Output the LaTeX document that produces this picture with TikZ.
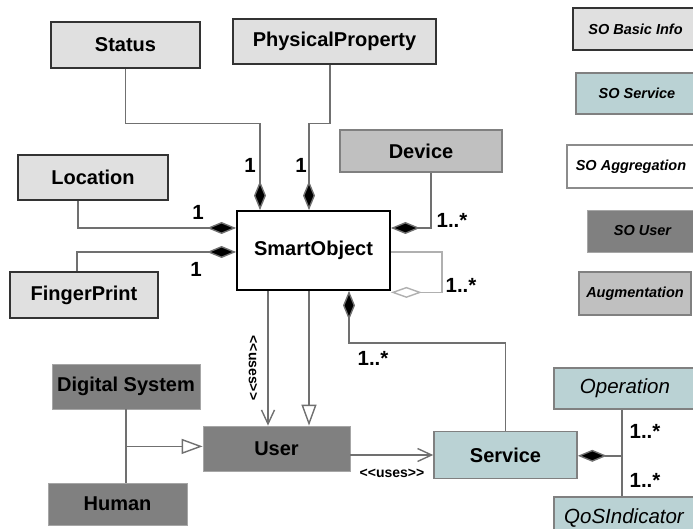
\documentclass[tikz,border=0pt]{standalone}
\usepackage{fontspec}
\setmainfont{Liberation Sans}
\usetikzlibrary{arrows.meta,calc}

\definecolor{basicfill}{HTML}{E0E0E0}
\definecolor{servfill}{HTML}{BAD2D4}
\definecolor{userfill}{HTML}{808080}
\definecolor{augfill}{HTML}{C0C0C0}
\definecolor{linegray}{HTML}{707070}
\definecolor{loopgray}{HTML}{B0B0B0}

% kerns keep the angle brackets from joining into guillemets
\newcommand{\usesstereo}{<\kern0pt<uses>\kern0pt>}

\tikzset{
  box/.style={rectangle, inner sep=0pt, font=\fontsize{20}{24}\selectfont\bfseries, line width=1.6pt},
  basicbox/.style={box, fill=basicfill, draw=black!80},
  servbox/.style={box, fill=servfill, draw=black!50},
  userbox/.style={box, fill=userfill, draw=black!35, line width=0.8pt},
  augbox/.style={box, fill=augfill, draw=black!50},
  aggbox/.style={box, fill=white, draw=black},
  legend/.style={font=\fontsize{14.5}{17}\selectfont\bfseries\itshape},
  conn/.style={draw=linegray, line width=1.4pt},
  mult/.style={font=\fontsize{20.5}{24}\selectfont\bfseries, inner sep=0pt},
  stereo/.style={font=\fontsize{14}{16}\selectfont\bfseries, inner sep=0pt},
  compo/.style={-{Diamond[length=29pt,width=12pt,fill=black]}},
  compostart/.style={{Diamond[length=29pt,width=12pt,fill=black]}-},
  aggr/.style={-{Diamond[open,length=31pt,width=11pt,fill=white]}},
  gener/.style={-{Triangle[open,length=21pt,width=15pt,fill=white]}},
  usesarrow/.style={-{Straight Barb[length=14pt,width=13pt]}},
}

\begin{document}
\begin{tikzpicture}[x=1pt,y=-1pt]
\useasboundingbox (0,0) rectangle (693,529);

% classes
\node[basicbox, minimum width=149pt, minimum height=46pt] (status) at (125.5,45) {Status};
\node[basicbox, minimum width=203pt, minimum height=45pt] (phys) at (334.5,41.5) {PhysicalProperty};
\node[augbox, minimum width=162pt, minimum height=42pt] (device) at (421,151) {Device};
\node[basicbox, minimum width=150pt, minimum height=45pt] (location) at (93,177.5) {Location};
\node[aggbox, minimum width=153pt, minimum height=79pt, line width=1.8pt] (so) at (313.5,250.5) {SmartObject};
\node[basicbox, minimum width=148pt, minimum height=46pt] (finger) at (84,295) {FingerPrint};
\node[userbox, minimum width=148pt, minimum height=45pt] (digital) at (126,386.5) {Digital System};
\node[userbox, minimum width=139pt, minimum height=42pt] (human) at (117.5,504) {Human};
\node[userbox, minimum width=147pt, minimum height=45pt] (user) at (276.5,448.5) {User};
\node[servbox, minimum width=143pt, minimum height=47pt] (service) at (505.5,455) {Service};
\node[servbox, minimum width=142pt, minimum height=41pt, font=\fontsize{20.5}{24}\selectfont\itshape] (operation) at (625,388.5) {Operation};
\node[servbox, minimum width=140pt, minimum height=42pt, font=\fontsize{20.5}{24}\selectfont\itshape] (qos) at (624,518) {QoSIndicator};

% legend
\node[basicbox, legend, minimum width=125pt, minimum height=42pt] (lbasic) at (635.5,29) {SO Basic Info};
\node[servbox, legend, minimum width=122pt, minimum height=41pt] (lserv) at (637,93.5) {SO Service};
\node[aggbox, legend, draw=black!45, minimum width=128pt, minimum height=43pt] (lagg) at (631,166.5) {SO Aggregation};
\node[userbox, legend, minimum width=111pt, minimum height=42pt] (luser) at (642.5,231) {SO User};
\node[augbox, legend, minimum width=112pt, minimum height=43pt] (laug) at (635,293.5) {Augmentation};

% compositions into SmartObject
\draw[conn, compo] (status.south) -- ++(0,55) -| ($(so.north)+(-53.5,0)$);
\draw[conn, compo] ($(phys.south)+(-4.5,0)$) -- ++(0,59) -| ($(so.north)+(-4.5,0)$);
\draw[conn, compo] ($(location.south)+(-15,0)$) |- ($(so.west)+(0,-22.5)$);
\draw[conn, compo] ($(finger.north)+(-7,0)$) |- ($(so.west)+(0,1.5)$);
\draw[conn, compo] ($(device.south)+(10,0)$) |- ($(so.east)+(0,-22.5)$);

% self aggregation
\draw[draw=loopgray, line width=1.4pt, aggr] ($(so.east)+(0,1.5)$) -- ++(51,0) |- ($(so.south east)+(0,1.5)$);

% SmartObject to User and Service
\draw[conn, usesarrow] ($(so.south)+(-45.5,0)$) -- ($(user.north)+(-8.5,0)$);
\draw[conn, gener] ($(so.south)+(-4.5,0)$) -- ($(user.north)+(32.5,0)$);
\draw[conn, compostart] ($(so.south)+(35.5,0)$) -- ++(0,52) -| (service.north);

% User specialisations
\coordinate (junction) at ($(digital.south)+(0,37)$);
\draw[conn] (digital.south) -- (digital.south |- human.north);
\draw[conn, gener] (junction) -- (junction -| user.west);

% User uses Service
\draw[conn, usesarrow] ($(user.east)+(0,6.5)$) -- (service.west);

% Service composed of Operation and QoSIndicator
\coordinate (opq) at ($(operation.south)+(-3,46)$);
\draw[conn] ($(operation.south)+(-3,0)$) -- ($(qos.north)+(-2,0)$);
\draw[conn, compo] (opq) -- (opq -| service.east);

% multiplicities and stereotypes
\node[mult] (m1) at (250,165) {1};
\node[mult] (m2) at (301,165) {1};
\node[mult] (m3) at (198,212) {1};
\node[mult] (m4) at (196,269) {1};
\node[mult] (m5) at (452,220) {1..*};
\node[mult] (m6) at (461,285) {1..*};
\node[mult] (m7) at (373,358) {1..*};
\node[mult] (m8) at (645,431) {1..*};
\node[mult] (m9) at (645,480) {1..*};
\node[stereo, rotate=-90] (s1) at (253,368) {\usesstereo};
\node[stereo] (s2) at (392,473) {\usesstereo};
\end{tikzpicture}
\end{document}
